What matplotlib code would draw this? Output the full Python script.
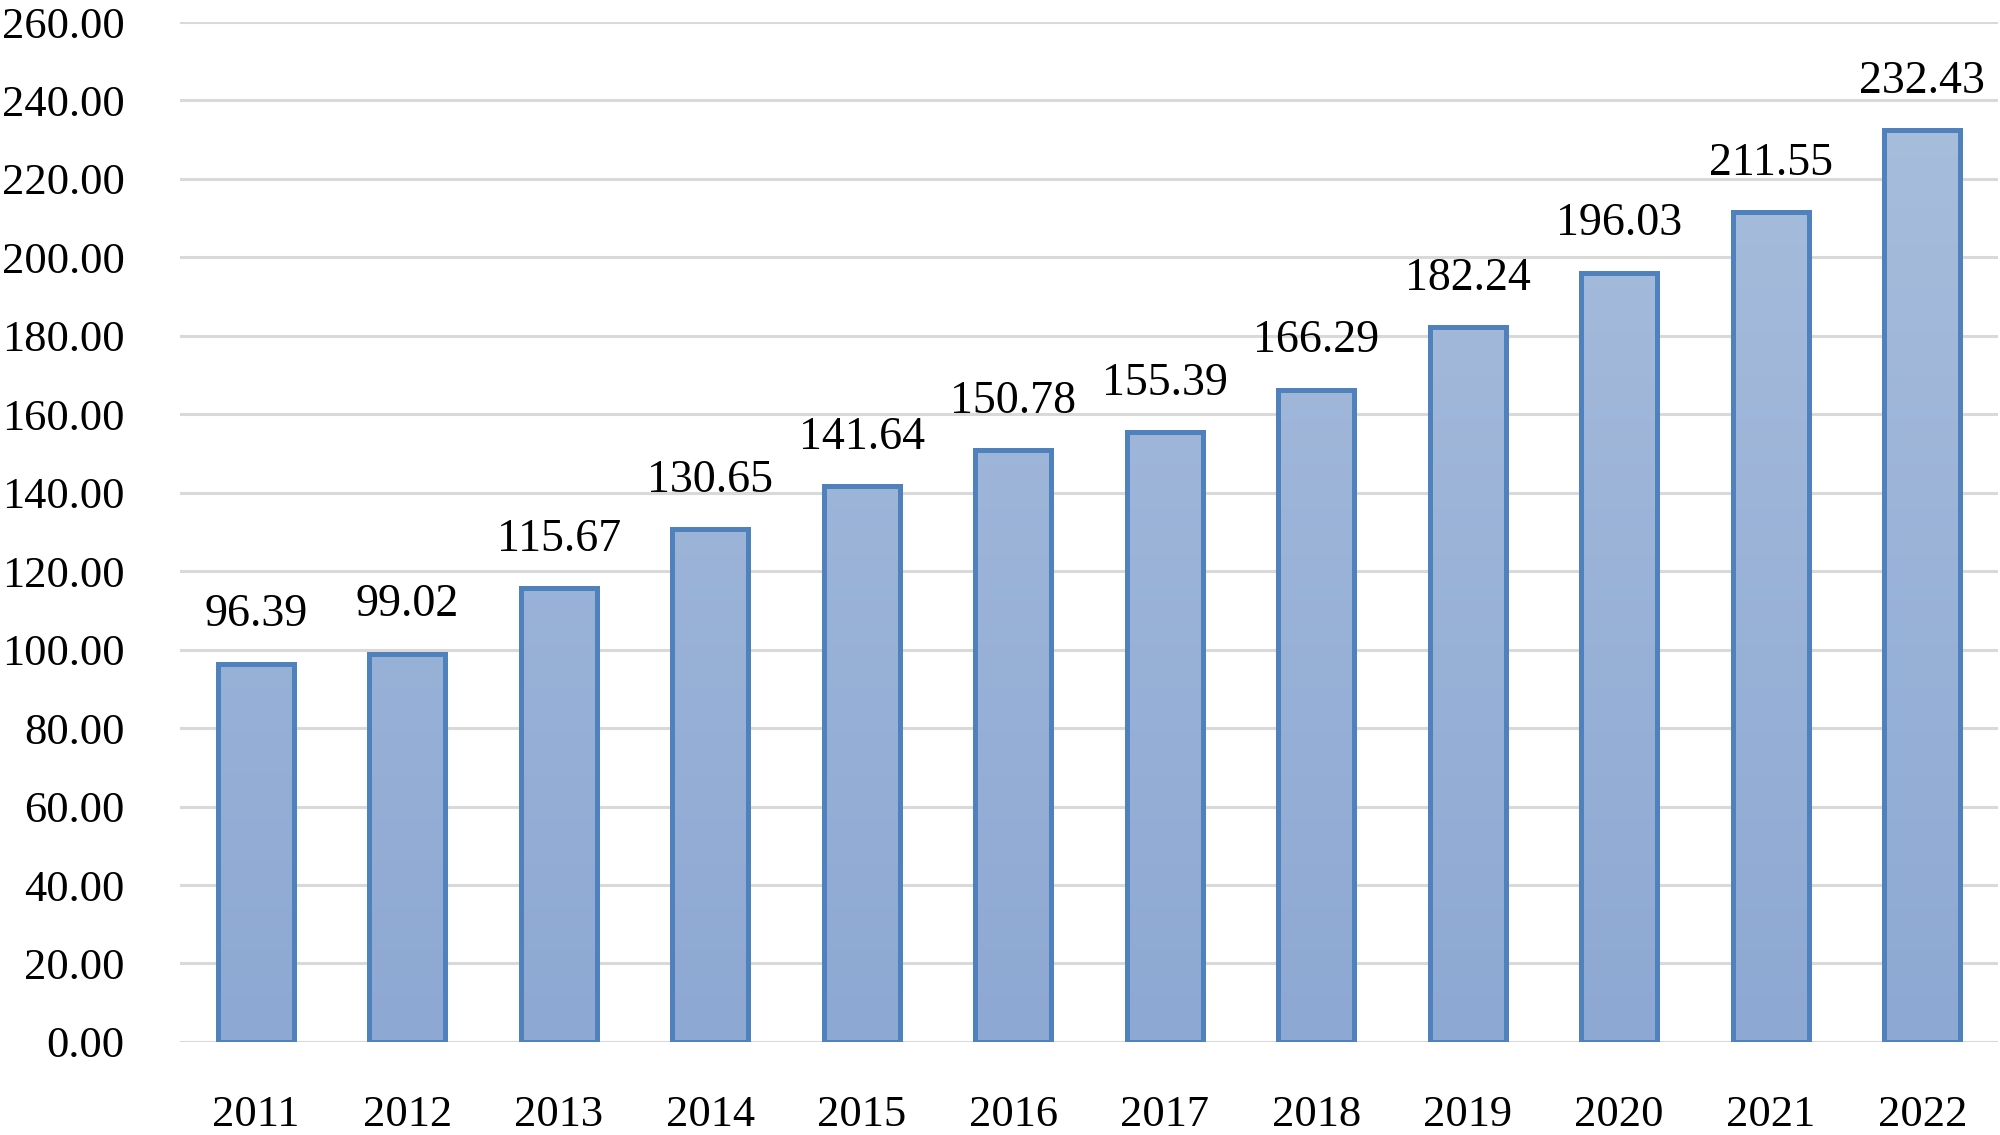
import matplotlib
matplotlib.use("Agg")
import matplotlib.pyplot as plt
import numpy as np
from matplotlib.colors import LinearSegmentedColormap

years = ["2011", "2012", "2013", "2014", "2015", "2016",
         "2017", "2018", "2019", "2020", "2021", "2022"]
values = [96.39, 99.02, 115.67, 130.65, 141.64, 150.78,
          155.39, 166.29, 182.24, 196.03, 211.55, 232.43]
yticks = np.arange(0, 261, 20)

EDGE = "#4F81BD"
GRID = "#D9D9D9"
grad = LinearSegmentedColormap.from_list("bar", ["#8DA8D3", "#AABFDD"])

plt.rcParams["font.family"] = ["Liberation Serif", "DejaVu Serif"]

fig = plt.figure(figsize=(20, 11.35), dpi=100)
ax = fig.add_axes([0.09, 0.082, 0.909, 0.8986])

x = np.arange(len(years))
bars = ax.bar(x, values, width=0.5, facecolor="none", edgecolor=EDGE,
              linewidth=3.6, zorder=3)

# vertical gradient fill clipped to each bar
img = np.linspace(0, 1, 256).reshape(-1, 1)
for b in bars:
    x0, w = b.get_x(), b.get_width()
    im = ax.imshow(img, cmap=grad, origin="lower", aspect="auto",
                   extent=[x0, x0 + w, 0, 260], zorder=2)
    im.set_clip_path(b)

for xi, v in zip(x, values):
    ax.text(xi, v + 7, f"{v:.2f}", ha="center", va="bottom", fontsize=33)

ax.set_xlim(-0.5, len(years) - 0.5)
ax.set_ylim(0, 260)
ax.set_yticks(yticks)
ax.set_yticklabels([f"{t:.2f}" for t in yticks], fontsize=32)
ax.set_xticks(x)
ax.set_xticklabels(years, fontsize=32)
ax.tick_params(axis="both", length=0)
ax.tick_params(axis="y", pad=40)
ax.tick_params(axis="x", pad=38)

ax.yaxis.grid(True, color=GRID, linewidth=2.2, zorder=0)
ax.set_axisbelow(True)
for s in ax.spines.values():
    s.set_visible(False)

fig.savefig("out.png", dpi=100)
